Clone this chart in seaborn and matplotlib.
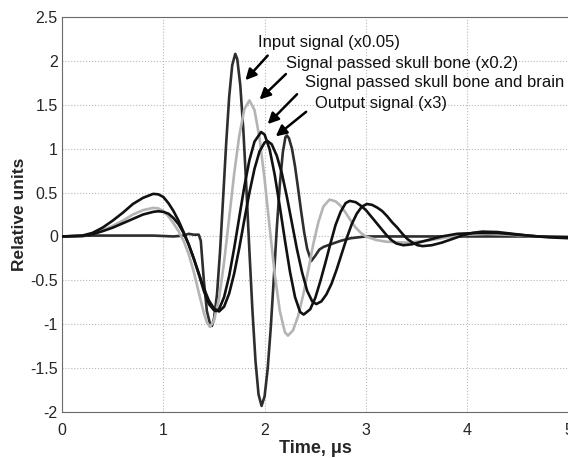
import numpy as np
import pandas as pd
import matplotlib
matplotlib.use('Agg')
import matplotlib.pyplot as plt
import seaborn as sns

# values (time in us, relative units)
t_input = [0.0, 0.3, 0.6, 0.9, 1.1, 1.2, 1.25, 1.3, 1.35, 1.37, 1.40, 1.43, 1.46, 1.48,
           1.50, 1.53, 1.56, 1.59, 1.62, 1.65, 1.68, 1.71, 1.73, 1.76, 1.79, 1.82, 1.85,
           1.88, 1.91, 1.94, 1.97, 2.00, 2.03, 2.06, 2.09, 2.12, 2.15, 2.18, 2.205, 2.22,
           2.24, 2.27, 2.30, 2.33, 2.36, 2.39, 2.42, 2.46, 2.50, 2.54, 2.58, 2.65, 2.75,
           2.85, 3.0, 3.5, 4.0, 4.5, 5.0]
y_input = [0.0, 0.01, 0.01, 0.01, 0.0, 0.01, 0.03, 0.02, 0.02, -0.05, -0.5, -0.85, -0.99, -1.02,
           -0.94, -0.66, -0.17, 0.43, 1.05, 1.59, 1.95, 2.08, 2.02, 1.72, 1.21, 0.55, -0.17,
           -0.85, -1.42, -1.80, -1.93, -1.82, -1.51, -1.05, -0.49, 0.09, 0.59, 0.96, 1.13, 1.15,
           1.12, 1.00, 0.80, 0.55, 0.29, 0.05, -0.14, -0.28, -0.22, -0.15, -0.12, -0.09, -0.05,
           -0.02, 0.0, 0.0, 0.0, 0.0, 0.0]

t_skull = [0.0, 0.2, 0.3, 0.4, 0.5, 0.6, 0.7, 0.8, 0.9, 0.95, 1.0, 1.05, 1.1, 1.15, 1.2,
           1.25, 1.3, 1.35, 1.40, 1.43, 1.46, 1.50, 1.55, 1.60, 1.65, 1.70, 1.75, 1.80, 1.85,
           1.90, 1.95, 2.00, 2.05, 2.10, 2.15, 2.20, 2.23, 2.28, 2.33, 2.38, 2.43, 2.48,
           2.53, 2.58, 2.64, 2.70, 2.75, 2.80, 2.85, 2.90, 2.95, 3.0, 3.1, 3.2, 3.4, 3.6,
           3.8, 4.0, 4.2, 4.4, 4.7, 5.0]
y_skull = [0.0, 0.005, 0.03, 0.07, 0.12, 0.18, 0.25, 0.30, 0.325, 0.32, 0.29, 0.23, 0.15, 0.06, -0.05,
           -0.2, -0.4, -0.64, -0.87, -0.98, -1.03, -0.96, -0.71, -0.29, 0.21, 0.72, 1.15, 1.45, 1.55,
           1.44, 1.12, 0.65, 0.10, -0.43, -0.85, -1.09, -1.13, -1.07, -0.91, -0.67, -0.39, -0.09,
           0.16, 0.34, 0.42, 0.40, 0.35, 0.27, 0.18, 0.10, 0.04, 0.0, -0.04, -0.06, -0.07, -0.05,
           -0.01, 0.02, 0.03, 0.02, 0.0, 0.0]

t_brain = [0.0, 0.2, 0.3, 0.4, 0.5, 0.6, 0.7, 0.8, 0.9, 0.95, 1.0, 1.05, 1.1, 1.15, 1.2,
           1.25, 1.3, 1.35, 1.40, 1.45, 1.50, 1.52, 1.55, 1.60, 1.65, 1.70, 1.75, 1.80, 1.85,
           1.90, 1.965, 2.00, 2.05, 2.10, 2.15, 2.20, 2.25, 2.30, 2.35, 2.385, 2.45, 2.50,
           2.55, 2.60, 2.65, 2.70, 2.75, 2.80, 2.84, 2.90, 2.95, 3.00, 3.05, 3.10, 3.15,
           3.20, 3.25, 3.30, 3.37, 3.45, 3.55, 3.65, 3.75, 3.9, 4.1, 4.3, 4.5, 4.7, 5.0]
y_brain = [0.0, 0.005, 0.025, 0.06, 0.10, 0.15, 0.20, 0.25, 0.28, 0.287, 0.28, 0.26, 0.21, 0.14, 0.04,
           -0.09, -0.25, -0.43, -0.62, -0.77, -0.84, -0.85, -0.83, -0.69, -0.45, -0.13, 0.22, 0.57, 0.87,
           1.08, 1.19, 1.16, 0.99, 0.70, 0.34, -0.04, -0.40, -0.69, -0.86, -0.89, -0.83, -0.70,
           -0.51, -0.30, -0.08, 0.13, 0.28, 0.38, 0.405, 0.39, 0.35, 0.30, 0.23, 0.16, 0.09,
           0.02, -0.04, -0.08, -0.10, -0.09, -0.06, -0.03, 0.0, 0.03, 0.04, 0.04, 0.02, 0.0, -0.01]

t_output = [0.0, 0.2, 0.3, 0.4, 0.5, 0.6, 0.7, 0.8, 0.9, 0.95, 1.0, 1.05, 1.1, 1.15, 1.2,
            1.25, 1.3, 1.35, 1.4, 1.45, 1.50, 1.55, 1.60, 1.65, 1.70, 1.75, 1.80, 1.85, 1.90,
            1.95, 2.00, 2.027, 2.07, 2.12, 2.17, 2.22, 2.27, 2.32, 2.37, 2.42, 2.47, 2.51,
            2.56, 2.61, 2.66, 2.71, 2.76, 2.81, 2.86, 2.91, 2.96, 3.01, 3.06, 3.11, 3.16,
            3.21, 3.26, 3.31, 3.36, 3.41, 3.46, 3.51, 3.56, 3.65, 3.75, 3.85, 3.95, 4.05,
            4.15, 4.3, 4.45, 4.6, 4.8, 5.0]
y_output = [0.0, 0.01, 0.04, 0.10, 0.18, 0.27, 0.37, 0.44, 0.485, 0.48, 0.45, 0.38, 0.29, 0.18, 0.05,
            -0.09, -0.25, -0.42, -0.59, -0.73, -0.82, -0.855, -0.80, -0.65, -0.42, -0.13, 0.19, 0.50, 0.77,
            0.97, 1.07, 1.088, 1.05, 0.92, 0.72, 0.45, 0.15, -0.15, -0.41, -0.62, -0.74, -0.77,
            -0.74, -0.66, -0.54, -0.38, -0.20, -0.02, 0.14, 0.26, 0.34, 0.37, 0.36, 0.33, 0.29,
            0.23, 0.16, 0.10, 0.03, -0.03, -0.07, -0.10, -0.11, -0.10, -0.07, -0.03, 0.01, 0.04,
            0.055, 0.05, 0.03, 0.01, -0.01, -0.02]

labels = ['Input signal (x0.05)', 'Signal passed skull bone (x0.2)',
          'Signal passed skull bone and brain', 'Output signal (x3)']
colors = ['#2e2e2e', '#b4b4b4', '#111111', '#111111']

# text position and arrow tail/head for each label (data units)
text_xy = [(1.93, 2.21), (2.21, 1.97), (2.40, 1.75), (2.50, 1.51)]
arrow_tail = [(2.03, 2.06), (2.21, 1.85), (2.32, 1.62), (2.41, 1.42)]
arrow_head = [(1.81, 1.78), (1.95, 1.56), (2.03, 1.28), (2.11, 1.14)]

sns.set_style('whitegrid', {'grid.linestyle': ':', 'grid.color': '#b8b8b8',
                            'axes.edgecolor': '#6a6a6a', 'xtick.direction': 'in',
                            'ytick.direction': 'in'})
plt.rcParams['font.family'] = ['Liberation Sans', 'DejaVu Sans']

fig = plt.figure(figsize=(5.68, 4.58), dpi=100)
ax = fig.add_axes([0.1092, 0.1004, 0.8917, 0.8625])

series = [(t_input, y_input), (t_skull, y_skull), (t_brain, y_brain), (t_output, y_output)]
for (tt, yy), c in zip(series, colors):
    df = pd.DataFrame({'t': tt, 'y': yy})
    sns.lineplot(data=df, x='t', y='y', color=c, lw=1.9, ax=ax, zorder=3)

for lab, txy, tail, head in zip(labels, text_xy, arrow_tail, arrow_head):
    ax.text(txy[0], txy[1], lab, fontsize=12, ha='left', va='center', color='#111111')
    ax.annotate('', xy=head, xytext=tail,
                arrowprops=dict(arrowstyle='-|>', color='black', lw=1.8,
                                mutation_scale=16, shrinkA=0, shrinkB=0))

ax.set_xlim(0, 5)
ax.set_ylim(-2, 2.5)
ax.set_xticks([0, 1, 2, 3, 4, 5])
ax.set_xticklabels(['0', '1', '2', '3', '4', '5'])
ax.set_yticks([-2, -1.5, -1, -0.5, 0, 0.5, 1, 1.5, 2, 2.5])
ax.set_yticklabels(['-2', '-1.5', '-1', '-0.5', '0', '0.5', '1', '1.5', '2', '2.5'])
ax.tick_params(labelsize=11.5, length=4, color='#6a6a6a')
ax.tick_params(axis='x', pad=8)
ax.tick_params(axis='y', pad=3)
ax.set_xlabel('Time, \u03bcs', fontsize=13, fontweight='bold', labelpad=1)
ax.set_ylabel('Relative units', fontsize=12.5, fontweight='bold', labelpad=2)

fig.savefig('out.png', dpi=100)
